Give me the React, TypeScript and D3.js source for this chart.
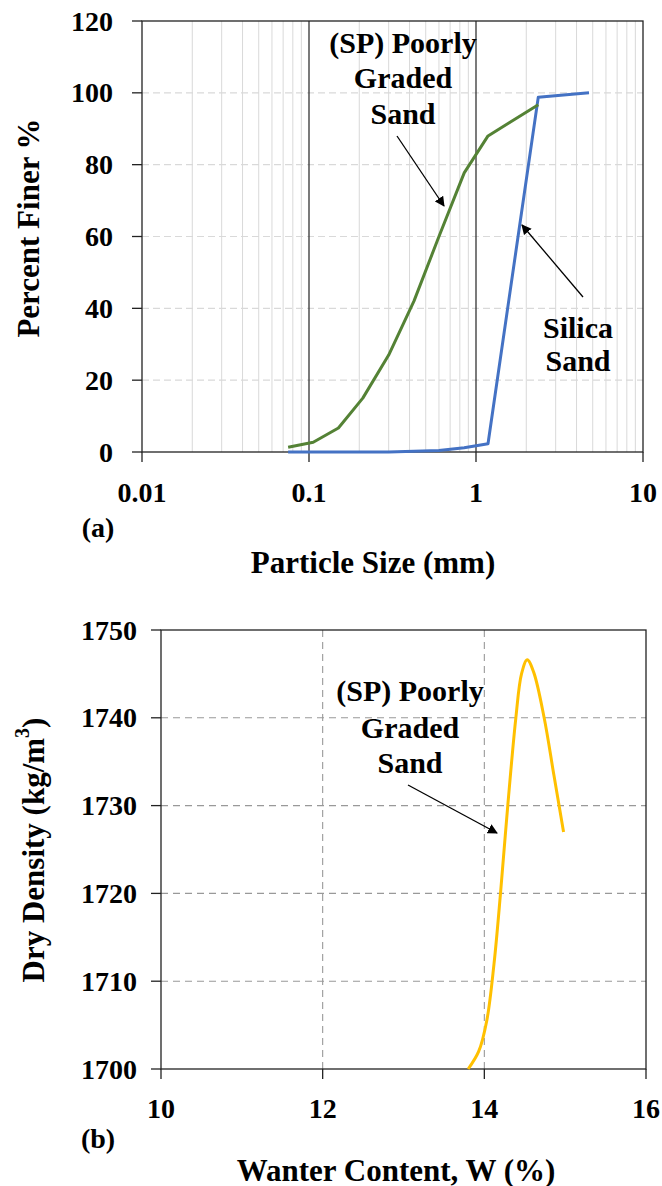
import React from "react";
import * as d3 from "d3";

// (a) grain size distribution
const spSizes = [0.075, 0.106, 0.15, 0.21, 0.3, 0.425, 0.6, 0.85, 1.18, 2.36];
const spFiner = [1.3, 2.7, 6.7, 15, 27, 42, 60, 77.7, 88, 96.7];
const silicaSizes = [0.075, 0.15, 0.3, 0.6, 0.85, 1.18, 2.36, 4.75];
const silicaFiner = [0, 0, 0, 0.4, 1.2, 2.3, 98.8, 100];
const xTicksA = [0.01, 0.1, 1, 10];
const xTickLabelsA = ["0.01", "0.1", "1", "10"];
const yTicksA = [0, 20, 40, 60, 80, 100, 120];

// (b) compaction curve
const waterContent = [13.8, 13.93, 14.03, 14.12, 14.2, 14.29, 14.39, 14.46, 14.53, 14.61, 14.74, 14.86, 14.98];
const dryDensity = [1700, 1702, 1705.5, 1712, 1720, 1730, 1740, 1745, 1746.6, 1745.2, 1740, 1733.5, 1727];
const xTicksB = [10, 12, 14, 16];
const yTicksB = [1700, 1710, 1720, 1730, 1740, 1750];

const FONT = "Liberation Serif, DejaVu Serif, Times New Roman, serif";

const Arrow = ({ x1, y1, x2, y2 }: { x1: number; y1: number; x2: number; y2: number }) => (
  <line x1={x1} y1={y1} x2={x2} y2={y2} stroke="#000" strokeWidth={1.3} markerEnd="url(#arrowHead)" />
);

const MultiLine = ({ x, ys, lines, size }: { x: number; ys: number[]; lines: string[]; size: number }) => (
  <g>
    {lines.map((t, i) => (
      <text key={i} x={x} y={ys[i]} textAnchor="middle" dominantBaseline="central" fontSize={size} fontWeight="bold" fontFamily={FONT}>
        {t}
      </text>
    ))}
  </g>
);

export default function App() {
  // ---------- chart (a)
  const xA = d3.scaleLog().domain([0.01, 10]).range([142, 643]);
  const yA = d3.scaleLinear().domain([0, 120]).range([452, 21]);
  const minorA: number[] = [];
  [0.01, 0.1, 1].forEach((d) => {
    for (let k = 2; k <= 9; k++) minorA.push(d * k);
  });
  const lineA = d3
    .line<[number, number]>()
    .x((d) => xA(d[0]))
    .y((d) => yA(d[1]));
  const spPts = spSizes.map((s, i) => [s, spFiner[i]] as [number, number]);
  const siPts = silicaSizes.map((s, i) => [s, silicaFiner[i]] as [number, number]);

  // ---------- chart (b)
  const xB = d3.scaleLinear().domain([10, 16]).range([161, 646]);
  const yB = d3.scaleLinear().domain([1700, 1750]).range([1069, 630]);
  const lineB = d3
    .line<[number, number]>()
    .x((d) => xB(d[0]))
    .y((d) => yB(d[1]))
    .curve(d3.curveCatmullRom.alpha(0.5));
  const compPts = waterContent.map((w, i) => [w, dryDensity[i]] as [number, number]);

  return (
    <svg width={662} height={1186} style={{ position: "absolute", left: 0, top: 0, background: "#fff" }}>
      <defs>
        <marker id="arrowHead" viewBox="0 0 10 10" refX="9" refY="5" markerWidth="10" markerHeight="10" markerUnits="userSpaceOnUse" orient="auto">
          <path d="M0,0 L10,5 L0,10 z" fill="#000" />
        </marker>
      </defs>

      {/* ===== (a) ===== */}
      {minorA.map((v) => (
        <line key={"mv" + v} x1={xA(v)} x2={xA(v)} y1={yA(0)} y2={yA(120)} stroke="#d9d9d9" strokeWidth={1} />
      ))}
      {yTicksA.slice(1, -1).map((v) => (
        <line key={"hg" + v} x1={xA(0.01)} x2={xA(10)} y1={yA(v)} y2={yA(v)} stroke="#d9d9d9" strokeWidth={1.2} strokeDasharray="7,4" />
      ))}
      {[0.1, 1].map((v) => (
        <line key={"mj" + v} x1={xA(v)} x2={xA(v)} y1={yA(0)} y2={yA(120)} stroke="#222" strokeWidth={1.2} />
      ))}
      <rect x={xA(0.01)} y={yA(120)} width={xA(10) - xA(0.01)} height={yA(0) - yA(120)} fill="none" stroke="#222" strokeWidth={1.3} />
      {yTicksA.map((v) => (
        <g key={"ya" + v}>
          <line x1={xA(0.01) - 10} x2={xA(0.01)} y1={yA(v)} y2={yA(v)} stroke="#222" strokeWidth={1.3} />
          <text x={113} y={yA(v)} textAnchor="end" dominantBaseline="central" fontSize={28} fontWeight="bold" fontFamily={FONT}>
            {v}
          </text>
        </g>
      ))}
      {xTicksA.map((v, i) => (
        <g key={"xa" + v}>
          <line x1={xA(v)} x2={xA(v)} y1={yA(0)} y2={yA(0) + 10} stroke="#222" strokeWidth={1.3} />
          <text x={xA(v)} y={492} textAnchor="middle" dominantBaseline="central" fontSize={28} fontWeight="bold" fontFamily={FONT}>
            {xTickLabelsA[i]}
          </text>
        </g>
      ))}
      <path d={lineA(siPts) || ""} fill="none" stroke="#4472c4" strokeWidth={3} strokeLinejoin="round" />
      <path d={lineA(spPts) || ""} fill="none" stroke="#548235" strokeWidth={3} strokeLinejoin="round" />

      <MultiLine x={403} ys={[42, 77, 113]} lines={["(SP) Poorly", "Graded", "Sand"]} size={30} />
      <Arrow x1={397} y1={136} x2={444} y2={206} />
      <MultiLine x={578} ys={[327, 360]} lines={["Silica", "Sand"]} size={30} />
      <Arrow x1={583} y1={297} x2={522} y2={225} />

      <text x={98} y={527} textAnchor="middle" dominantBaseline="central" fontSize={28} fontWeight="bold" fontFamily={FONT}>
        (a)
      </text>
      <text x={373} y={562} textAnchor="middle" dominantBaseline="central" fontSize={31} fontWeight="bold" fontFamily={FONT}>
        Particle Size (mm)
      </text>
      <text transform="translate(28,228) rotate(-90)" textAnchor="middle" dominantBaseline="central" fontSize={31} fontWeight="bold" fontFamily={FONT}>
        Percent Finer %
      </text>

      {/* ===== (b) ===== */}
      {yTicksB.slice(1, -1).map((v) => (
        <line key={"hb" + v} x1={xB(10)} x2={xB(16)} y1={yB(v)} y2={yB(v)} stroke="#999" strokeWidth={1.1} strokeDasharray="7,5" />
      ))}
      {xTicksB.slice(1, -1).map((v) => (
        <line key={"vb" + v} x1={xB(v)} x2={xB(v)} y1={yB(1700)} y2={yB(1750)} stroke="#999" strokeWidth={1.1} strokeDasharray="7,5" />
      ))}
      <rect x={xB(10)} y={yB(1750)} width={xB(16) - xB(10)} height={yB(1700) - yB(1750)} fill="none" stroke="#222" strokeWidth={1.3} />
      {yTicksB.map((v) => (
        <g key={"yb" + v}>
          <line x1={xB(10) - 10} x2={xB(10)} y1={yB(v)} y2={yB(v)} stroke="#222" strokeWidth={1.3} />
          <text x={137} y={yB(v)} textAnchor="end" dominantBaseline="central" fontSize={28} fontWeight="bold" fontFamily={FONT}>
            {v}
          </text>
        </g>
      ))}
      {xTicksB.map((v) => (
        <g key={"xb" + v}>
          <line x1={xB(v)} x2={xB(v)} y1={yB(1700)} y2={yB(1700) + 10} stroke="#222" strokeWidth={1.3} />
          <text x={xB(v)} y={1108} textAnchor="middle" dominantBaseline="central" fontSize={28} fontWeight="bold" fontFamily={FONT}>
            {v}
          </text>
        </g>
      ))}
      <path d={lineB(compPts) || ""} fill="none" stroke="#ffc000" strokeWidth={3} strokeLinejoin="round" />

      <MultiLine x={410} ys={[690, 727, 762]} lines={["(SP) Poorly", "Graded", "Sand"]} size={30} />
      <Arrow x1={408} y1={785} x2={497} y2={833} />

      <text x={98} y={1138} textAnchor="middle" dominantBaseline="central" fontSize={28} fontWeight="bold" fontFamily={FONT}>
        (b)
      </text>
      <text x={396} y={1170} textAnchor="middle" dominantBaseline="central" fontSize={31} fontWeight="bold" fontFamily={FONT}>
        Wanter Content, W (%)
      </text>
      <text transform="translate(33,850) rotate(-90)" textAnchor="middle" dominantBaseline="central" fontSize={31} fontWeight="bold" fontFamily={FONT}>
        Dry Density (kg/m<tspan fontSize={20} dy={-11}>3</tspan>
        <tspan dy={11}>)</tspan>
      </text>
    </svg>
  );
}
